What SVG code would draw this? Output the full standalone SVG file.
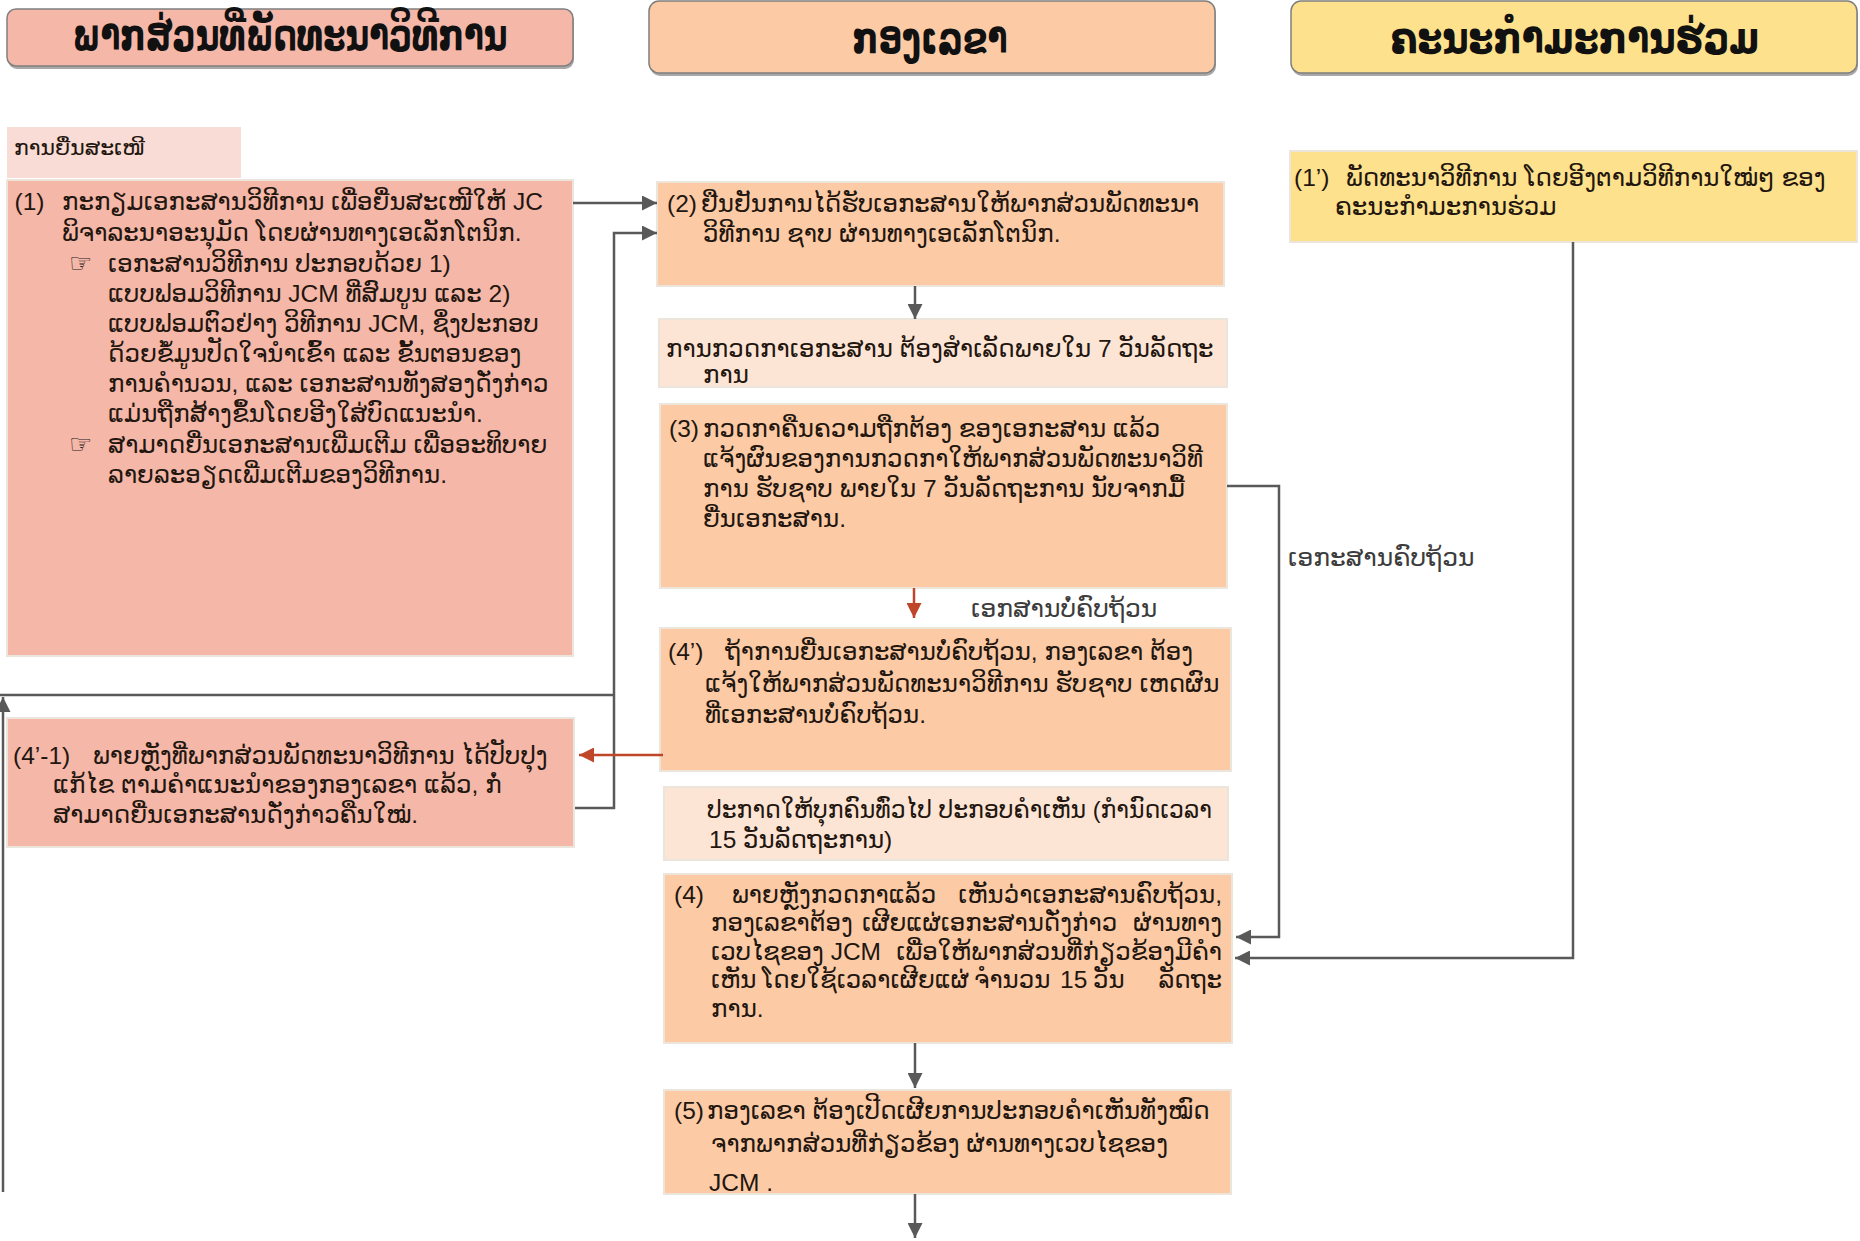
<svg xmlns="http://www.w3.org/2000/svg" width="1860" height="1241" viewBox="0 0 1860 1241">
<defs>
<style>
.hd{font-family:"DejaVu Sans","Liberation Sans",sans-serif;font-weight:bold;font-size:44px;fill:#111;text-anchor:middle}
.tx{font-family:"Liberation Sans","DejaVu Sans",sans-serif;font-size:24.5px;fill:#22160f}
.sm{font-family:"Liberation Sans","DejaVu Sans",sans-serif;font-size:22px;fill:#22160f}
.e{text-anchor:end}
.hand{font-family:"DejaVu Sans",sans-serif;font-size:26px;fill:#1a1a1a}
.lb{font-family:"Liberation Sans","DejaVu Sans",sans-serif;font-size:25px;fill:#3c3c3c}
.bx{stroke:#ebe5dc;stroke-width:2}
.hb{stroke:#7f7f7f;stroke-width:1.5}
.sal{fill:#f5b7a8}
.pch{fill:#fccba6}
.lpc{fill:#fde5d6}
.lpk{fill:#f9dcd5}
.yel{fill:#fee18c}
.sh{fill:#a8a8a8}
.c{fill:none;stroke:#595959;stroke-width:2.5}
.cr{fill:none;stroke:#c0462a;stroke-width:2.5}
</style>
<marker id="ag" viewBox="0 0 10 10" refX="10" refY="5" markerWidth="15" markerHeight="15" markerUnits="userSpaceOnUse" orient="auto"><path d="M0,0 L10,5 L0,10 z" fill="#595959"/></marker>
<marker id="ar" viewBox="0 0 10 10" refX="10" refY="5" markerWidth="15" markerHeight="15" markerUnits="userSpaceOnUse" orient="auto"><path d="M0,0 L10,5 L0,10 z" fill="#c0462a"/></marker>
</defs>
<rect width="1860" height="1241" fill="#ffffff"/>

<g id="hdr-dev">
<rect class="sh" x="8" y="12" width="566" height="57" rx="9"/>
<rect class="sal hb" x="7" y="9" width="566" height="57" rx="9"/>
<text class="hd" x="290" y="50" textLength="435" lengthAdjust="spacingAndGlyphs">ພາກສ່ວນທີ່ພັດທະນາວິທີການ</text>
</g>
<g id="hdr-sec">
<rect class="sh" x="650" y="4" width="566" height="72" rx="10"/>
<rect class="pch hb" x="649" y="1" width="566" height="72" rx="10"/>
<text class="hd" x="930" y="53" textLength="155" lengthAdjust="spacingAndGlyphs">ກອງເລຂາ</text>
</g>
<g id="hdr-jc">
<rect class="sh" x="1292" y="4" width="566" height="72" rx="10"/>
<rect class="yel hb" x="1291" y="1" width="566" height="72" rx="10"/>
<text class="hd" x="1575" y="53" textLength="369" lengthAdjust="spacingAndGlyphs">ຄະນະກຳມະການຮ່ວມ</text>
</g>

<g id="lbl-submit">
<rect class="lpk" x="7" y="127" width="234" height="51"/>
<text class="sm" x="14" y="155">ການຍື່ນສະເໜີ</text>
</g>

<g id="n1">
<rect class="sal bx" x="7" y="180" width="566" height="476"/>
<text class="tx"><tspan x="14.5" y="210">(1)</tspan><tspan x="62" y="210">ກະກຽມເອກະສານວິທີການ ເພື່ອຍື່ນສະເໜີໃຫ້ JC</tspan></text>
<text class="tx" x="62" y="241">ພິຈາລະນາອະນຸມັດ ໂດຍຜ່ານທາງເອເລັກໂຕນິກ.</text>
<text class="hand" x="69" y="272">☞</text>
<text class="tx" x="108" y="272">ເອກະສານວິທີການ ປະກອບດ້ວຍ 1)</text>
<text class="tx" x="108" y="302">ແບບຟອມວິທີການ JCM ທີ່ສົມບູນ ແລະ 2)</text>
<text class="tx" x="108" y="332">ແບບຟອມຕົວຢ່າງ ວິທີການ JCM, ຊຶ່ງປະກອບ</text>
<text class="tx" x="108" y="362">ດ້ວຍຂໍ້ມູນປັດໃຈນຳເຂົ້າ ແລະ ຂັ້ນຕອນຂອງ</text>
<text class="tx" x="108" y="392">ການຄຳນວນ, ແລະ ເອກະສານທັງສອງດັ່ງກ່າວ</text>
<text class="tx" x="108" y="422">ແມ່ນຖືກສ້າງຂຶ້ນໂດຍອີງໃສ່ບົດແນະນຳ.</text>
<text class="hand" x="69" y="453">☞</text>
<text class="tx" x="108" y="453">ສາມາດຍື່ນເອກະສານເພີ່ມເຕີມ ເພື່ອອະທິບາຍ</text>
<text class="tx" x="108" y="483">ລາຍລະອຽດເພີ່ມເຕີມຂອງວິທີການ.</text>
</g>

<g id="n1p">
<rect class="yel bx" x="1290" y="151" width="567" height="91"/>
<text class="tx"><tspan x="1294" y="186">(1’)</tspan><tspan x="1346" y="186">ພັດທະນາວິທີການ ໂດຍອີງຕາມວິທີການໃໝ່ໆ ຂອງ</tspan></text>
<text class="tx" x="1335" y="215">ຄະນະກຳມະການຮ່ວມ</text>
</g>

<g id="n2">
<rect class="pch bx" x="657" y="182" width="567" height="104"/>
<text class="tx"><tspan x="667" y="212">(2)</tspan><tspan x="701" y="212">ຢືນຢັນການໄດ້ຮັບເອກະສານໃຫ້ພາກສ່ວນພັດທະນາ</tspan></text>
<text class="tx" x="703" y="242">ວິທີການ ຊາບ ຜ່ານທາງເອເລັກໂຕນິກ.</text>
</g>

<g id="chk">
<rect class="lpc bx" x="659" y="319" width="568" height="68"/>
<text class="tx" x="666" y="357">ການກວດກາເອກະສານ ຕ້ອງສຳເລັດພາຍໃນ 7 ວັນລັດຖະ</text>
<text class="tx" x="703" y="383">ການ</text>
</g>

<g id="n3">
<rect class="pch bx" x="660" y="404" width="567" height="184"/>
<text class="tx"><tspan x="669" y="437">(3)</tspan><tspan x="703" y="437">ກວດກາຄືນຄວາມຖືກຕ້ອງ ຂອງເອກະສານ ແລ້ວ</tspan></text>
<text class="tx" x="703" y="467">ແຈ້ງຜົນຂອງການກວດກາໃຫ້ພາກສ່ວນພັດທະນາວິທີ</text>
<text class="tx" x="703" y="497">ການ ຮັບຊາບ ພາຍໃນ 7 ວັນລັດຖະການ ນັບຈາກມື້</text>
<text class="tx" x="703" y="527">ຍື່ນເອກະສານ.</text>
</g>

<g id="n4p">
<rect class="pch bx" x="660" y="628" width="571" height="143"/>
<text class="tx"><tspan x="668" y="660">(4’)</tspan><tspan x="725" y="660">ຖ້າການຍື່ນເອກະສານບໍ່ຄົບຖ້ວນ, ກອງເລຂາ ຕ້ອງ</tspan></text>
<text class="tx" x="705" y="692">ແຈ້ງໃຫ້ພາກສ່ວນພັດທະນາວິທີການ ຮັບຊາບ ເຫດຜົນ</text>
<text class="tx" x="705" y="723">ທີ່ເອກະສານບໍ່ຄົບຖ້ວນ.</text>
</g>

<g id="n4p1">
<rect class="sal bx" x="7" y="718" width="567" height="129"/>
<text class="tx"><tspan x="13" y="764">(4’-1)</tspan><tspan x="93" y="764">ພາຍຫຼັງທີ່ພາກສ່ວນພັດທະນາວິທີການ ໄດ້ປັບປຸງ</tspan></text>
<text class="tx" x="53" y="793">ແກ້ໄຂ ຕາມຄຳແນະນຳຂອງກອງເລຂາ ແລ້ວ, ກໍ່</text>
<text class="tx" x="53" y="823">ສາມາດຍື່ນເອກະສານດັ່ງກ່າວຄືນໃໝ່.</text>
</g>

<g id="pub">
<rect class="lpc bx" x="664" y="787" width="564" height="73"/>
<text class="tx" x="707" y="818" textLength="505" lengthAdjust="spacingAndGlyphs">ປະກາດໃຫ້ບຸກຄົນທົ່ວໄປ ປະກອບຄຳເຫັນ (ກຳນົດເວລາ</text>
<text class="tx" x="709" y="848">15 ວັນລັດຖະການ)</text>
</g>

<g id="n4">
<rect class="pch bx" x="664" y="874" width="568" height="169"/>
<text class="tx"><tspan x="674" y="903">(4)</tspan><tspan x="732" y="903">ພາຍຫຼັງກວດກາແລ້ວ</tspan></text>
<text class="tx e" x="1222" y="903">ເຫັນວ່າເອກະສານຄົບຖ້ວນ,</text>
<text class="tx"><tspan x="711" y="931">ກອງເລຂາຕ້ອງ</tspan><tspan x="862" y="931">ເຜີຍແຜ່ເອກະສານດັ່ງກ່າວ</tspan></text>
<text class="tx e" x="1222" y="931">ຜ່ານທາງ</text>
<text class="tx" x="711" y="960">ເວບໄຊຂອງ JCM</text>
<text class="tx e" x="1222" y="960">ເພື່ອໃຫ້ພາກສ່ວນທີ່ກ່ຽວຂ້ອງມີຄຳ</text>
<text class="tx"><tspan x="711" y="988">ເຫັນ</tspan><tspan x="762" y="988">ໂດຍໃຊ້ເວລາເຜີຍແຜ່</tspan><tspan x="974" y="988">ຈຳນວນ</tspan><tspan x="1060" y="988">15</tspan><tspan x="1093" y="988">ວັນ</tspan></text>
<text class="tx e" x="1222" y="988">ລັດຖະ</text>
<text class="tx" x="711" y="1017">ການ.</text>
</g>

<g id="n5">
<rect class="pch bx" x="664" y="1090" width="567" height="104"/>
<text class="tx"><tspan x="674" y="1119">(5)</tspan><tspan x="707" y="1119">ກອງເລຂາ ຕ້ອງເປີດເຜີຍການປະກອບຄຳເຫັນທັງໝົດ</tspan></text>
<text class="tx" x="711" y="1152">ຈາກພາກສ່ວນທີ່ກ່ຽວຂ້ອງ ຜ່ານທາງເວບໄຊຂອງ</text>
<text class="tx" x="709" y="1191">JCM .</text>
</g>

<g id="connectors">
<path class="c" d="M573,203 H657" marker-end="url(#ag)"/>
<path class="c" d="M575,808 H614 V233 H657" marker-end="url(#ag)"/>
<path class="c" d="M0,695 H614"/>
<path class="c" d="M3,1192 V697" marker-end="url(#ag)"/>
<path class="c" d="M915,286 V319" marker-end="url(#ag)"/>
<path class="cr" d="M914,588 V618" marker-end="url(#ar)"/>
<path class="cr" d="M663,755 H579" marker-end="url(#ar)"/>
<path class="c" d="M1227,486 H1279 V937 H1236" marker-end="url(#ag)"/>
<path class="c" d="M1573,242 V958 H1235" marker-end="url(#ag)"/>
<path class="c" d="M915,1043 V1088" marker-end="url(#ag)"/>
<path class="c" d="M915,1194 V1238" marker-end="url(#ag)"/>
<text class="lb" x="971" y="617">ເອກສານບໍ່ຄົບຖ້ວນ</text>
<text class="lb" x="1288" y="566">ເອກະສານຄົບຖ້ວນ</text>
</g>
</svg>
